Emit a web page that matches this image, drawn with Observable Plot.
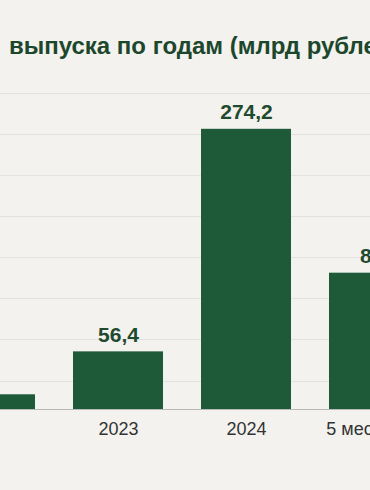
<!DOCTYPE html>
<html><head><meta charset="utf-8">
<script src="https://cdn.jsdelivr.net/npm/d3@7"></script>
<script src="https://cdn.jsdelivr.net/npm/@observablehq/plot@0.6"></script>
<style>
html,body{margin:0;padding:0;background:#f3f2ef;}
#wrap{position:relative;width:370px;height:490px;overflow:hidden;background:#f3f2ef;}
#title{position:absolute;left:9px;top:33px;white-space:nowrap;font:bold 24px "Liberation Sans",Arial,sans-serif;line-height:25px;color:#1d472c;}
#chart{position:absolute;left:-95px;top:80px;width:555px;height:380px;}
</style></head>
<body>
<div id="wrap">
  <div id="title"></div>
  <div id="chart"></div>
</div>
<script>
const titleText = "выпуска по годам (млрд рублей)";
const categories = ["2022", "2023", "2024", "5 мес. 2025"];
const values = [14.4, 56.4, 274.2, 133.4];
const valueLabels = ["", "56,4", "274,2", "85,3"];
const tickCategories = ["2023", "2024", "5 мес. 2025"];
const gridTicks = [27.4, 68.5, 108.6, 148.7, 188.8, 228.9, 269.1, 309.2];

document.getElementById("title").textContent = titleText;
const data = categories.map((c, i) => ({cat: c, value: values[i], label: valueLabels[i]}));
const lastCat = categories[categories.length - 1];
const labelStyle = {x: "cat", y: "value", text: "label", dy: -10, lineAnchor: "bottom", fontSize: 21, fontWeight: "bold", fill: "#1f4a2e"};

const chart = Plot.plot({
  width: 555,
  height: 380,
  marginLeft: 0,
  marginRight: 1,
  marginTop: 2,
  marginBottom: 51,
  style: {background: "transparent", maxWidth: "none", overflow: "visible", fontFamily: "Liberation Sans, Arial, sans-serif"},
  x: {domain: categories, padding: 0.2946, label: null},
  y: {domain: [0, 320], axis: null},
  marks: [
    Plot.ruleY(gridTicks, {stroke: "#e2e1de", strokeWidth: 1}),
    Plot.barY(data, {x: "cat", y: "value", fill: "#1f5a38"}),
    Plot.ruleY([0], {stroke: "#b8b8b6", strokeWidth: 1}),
    Plot.text(data.filter(d => d.label && d.cat !== lastCat), labelStyle),
    Plot.text(data.filter(d => d.label && d.cat === lastCat), {...labelStyle, dx: 6}),
    Plot.axisX(tickCategories, {tickSize: 0, tickPadding: 13, fontSize: 18, color: "#333", label: null})
  ]
});
document.getElementById("chart").appendChild(chart);
</script>
</body></html>
